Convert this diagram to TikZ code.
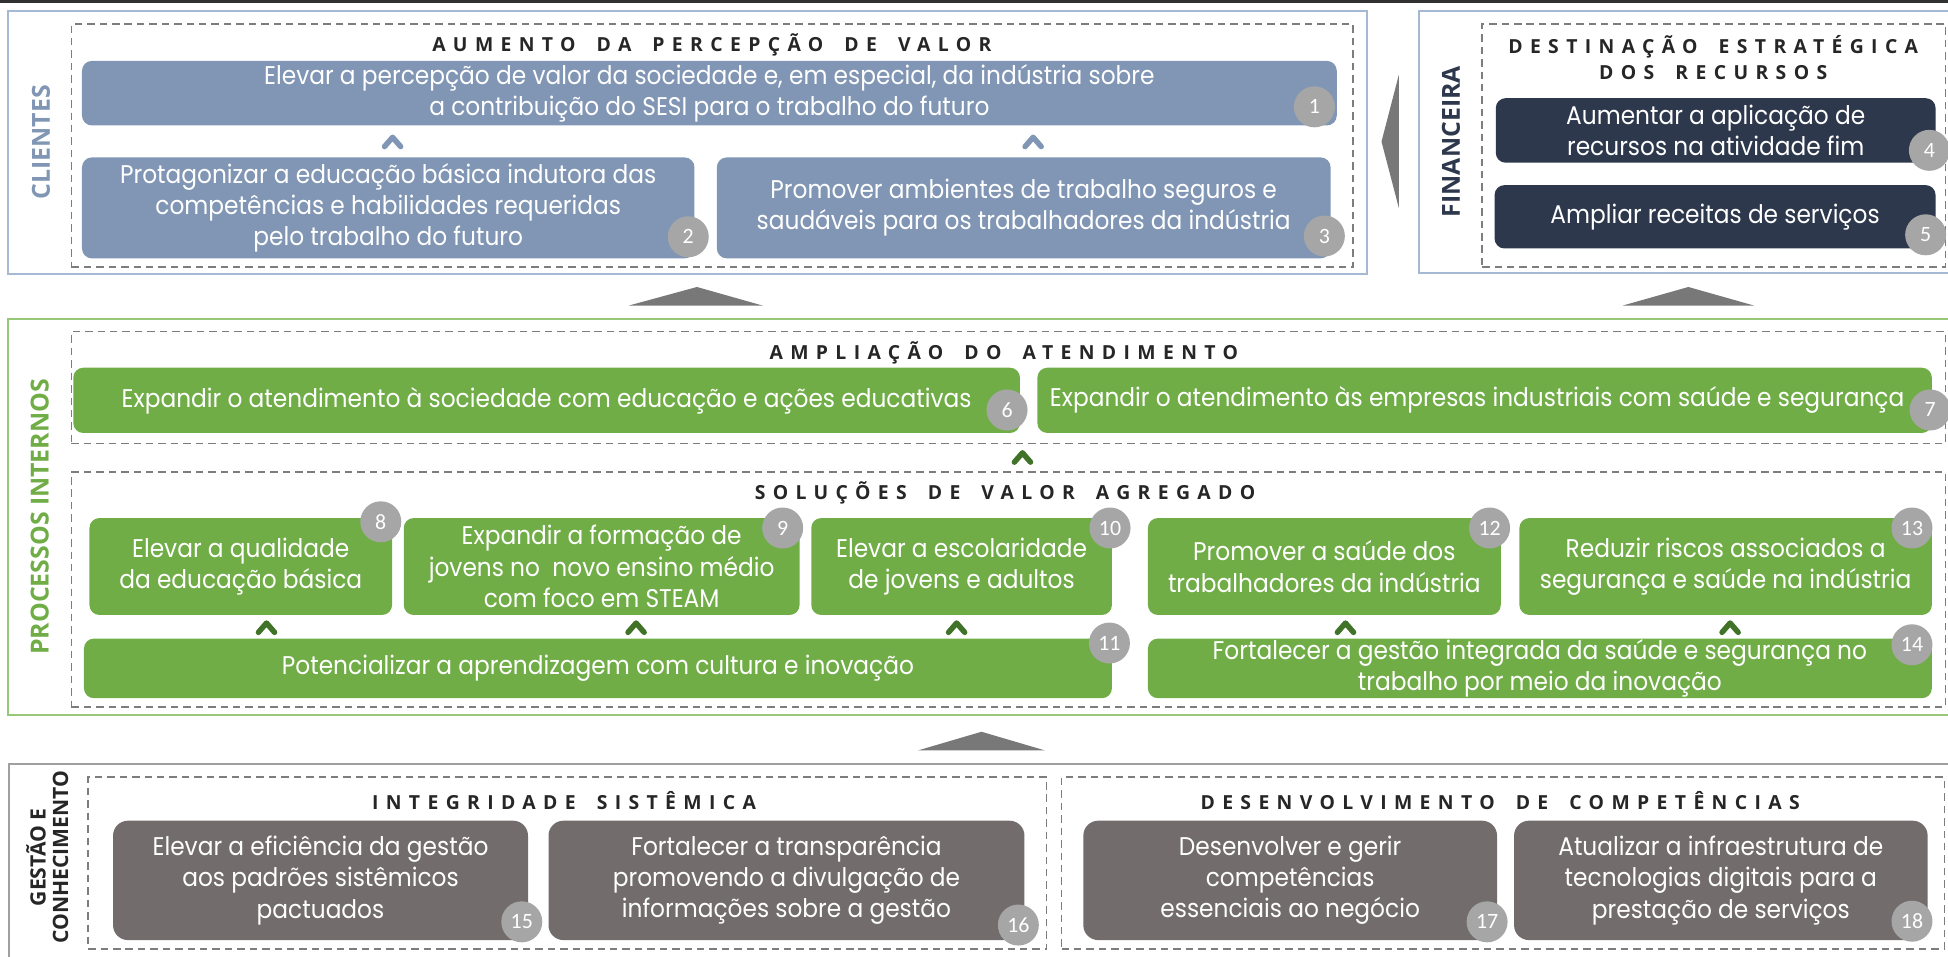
\documentclass[tikz,border=0pt]{standalone}
\usepackage{fontspec}
\setmainfont[FakeStretch=0.91]{Poppins}
\newfontfamily\ttlfont[LetterSpace=38, WordSpace=1.7]{Open Sans}
\newfontfamily\sidefont{Open Sans}
\newfontfamily\numfont{Carlito}
\definecolor{cliblue}{RGB}{128,150,180}
\definecolor{cliline}{RGB}{165,185,212}
\definecolor{navy}{RGB}{45,56,76}
\definecolor{grn}{RGB}{112,173,71}
\definecolor{grnline}{RGB}{150,200,120}
\definecolor{dkgrn}{RGB}{64,115,40}
\definecolor{gbx}{RGB}{114,108,108}
\definecolor{gline}{RGB}{160,160,160}
\definecolor{badgec}{RGB}{166,166,166}
\definecolor{dashc}{RGB}{125,125,125}
\definecolor{arrc}{RGB}{120,120,120}
\definecolor{ttlc}{RGB}{38,38,38}
\definecolor{topbar}{RGB}{50,50,50}
\tikzset{
  base/.style={inner sep=0pt, outer sep=0pt},
  btxt/.style={font=\fontsize{10.3}{12.6}\selectfont, text=white, align=center},
  cbox/.style={base, btxt, fill=cliblue, rounded corners=4pt},
  fbox/.style={base, btxt, fill=navy, rounded corners=4pt},
  pbox/.style={base, btxt, fill=grn, rounded corners=4pt},
  gbox/.style={base, btxt, fill=gbx, rounded corners=6pt},
  badge/.style={circle, fill=badgec, minimum size=16.5pt, inner sep=0pt, text=white, font=\numfont\fontsize{8.8}{8.8}\selectfont},
  dbox/.style={base, draw=dashc, line width=0.6pt, dash pattern=on 3pt off 2pt},
  frame/.style={base, line width=0.8pt},
  ttl/.style={font=\ttlfont\bfseries\fontsize{7.8}{10.5}\selectfont, text=ttlc, align=center},
  side/.style={rotate=90, font=\sidefont\bfseries\fontsize{10}{10}\selectfont, align=center},
  chevblue/.style={draw=cliblue, line width=2.2pt, line cap=round, line join=round},
  chevgreen/.style={draw=dkgrn, line width=2.2pt, line cap=round, line join=round},
}
\newcommand\mybox[7]{%
  \pgfmathsetmacro\bw{(#5-#3)/2}%
  \pgfmathsetmacro\bh{(#6-#4)/2}%
  \node[#2, minimum width=\bw pt, minimum height=\bh pt] (#1) at ({(#3+#5)/2},{(#4+#6)/2}) {#7};}
\newcommand\chev[3]{\draw[#3] (#1-6.5,#2+4) -- (#1,#2-3.5) -- (#1+6.5,#2+4);}
\begin{document}
\begin{tikzpicture}[x=0.5pt,y=-0.5pt]
\useasboundingbox (0,0) rectangle (1568,770);
\fill[topbar] (0,0) rectangle (1568,2.8);

% ---------- CLIENTES ----------
\mybox{cliO}{frame, draw=cliline}{6.5}{8.6}{1100}{220.5}{}
\mybox{cliD}{dbox}{57.5}{19.3}{1089}{215}{}
\node[side, text=cliblue] (cliL) at (33,114.5) {CLIENTES};
\node[ttl] (t1) at (573,36) {AUMENTO DA PERCEPÇÃO DE VALOR};
\mybox{o1}{cbox}{66}{49}{1076}{101}{Elevar a percepção de valor da sociedade e, em especial, da indústria sobre\\a contribuição do SESI para o trabalho do futuro}
\mybox{o2}{cbox}{66}{126.7}{559}{208}{Protagonizar a educação básica indutora das\\competências e habilidades requeridas\\pelo trabalho do futuro}
\mybox{o3}{cbox}{577}{126.7}{1071}{208}{Promover ambientes de trabalho seguros e\\saudáveis para os trabalhadores da indústria}
\node[badge] (n1) at (1058,86) {1};
\node[badge] (n2) at (554,190.6) {2};
\node[badge] (n3) at (1066,190) {3};
\chev{316}{114}{chevblue}
\chev{831.6}{114}{chevblue}

% left-pointing arrow
\fill[arrc] (1112,114) -- (1126,60) -- (1126,167.6) -- cycle;

% ---------- FINANCEIRA ----------
\mybox{finO}{frame, draw=cliline}{1142}{8.6}{1580}{220}{}
\mybox{finD}{dbox}{1193}{19.3}{1566}{215}{}
\node[side, text=navy] (finL) at (1168,114) {FINANCEIRA};
\node[ttl] (t2) at (1379,46.5) {DESTINAÇÃO ESTRATÉGICA\\DOS RECURSOS};
\mybox{o4}{fbox}{1204}{79}{1558}{131}{Aumentar a aplicação de\\recursos na atividade fim}
\mybox{o5}{fbox}{1203}{149}{1558}{200}{Ampliar receitas de serviços}
\node[badge] (n4) at (1553,121) {4};
\node[badge] (n5) at (1550,189) {5};

% up arrows
\fill[arrc] (506,246) -- (561,231) -- (614,246) -- cycle;
\fill[arrc] (1306,246) -- (1359,231) -- (1412,246) -- cycle;
\fill[arrc] (739,604) -- (790,589) -- (841,604) -- cycle;

% ---------- PROCESSOS INTERNOS ----------
\mybox{proO}{frame, draw=grnline}{6.5}{257}{1580}{575.6}{}
\node[side, text=grn] (proL) at (32,416) {PROCESSOS INTERNOS};
\mybox{proA}{dbox}{57.5}{267}{1566}{357}{}
\node[ttl] (t3) at (808,284) {AMPLIAÇÃO DO ATENDIMENTO};
\mybox{o6}{pbox}{59}{296}{821}{348.5}{Expandir o atendimento à sociedade com educação e ações educativas}
\mybox{o7}{pbox}{835}{296}{1555}{348.5}{Expandir o atendimento às empresas industriais com saúde e segurança\hspace*{6pt}}
\node[badge] (n6) at (810.6,330) {6};
\node[badge] (n7) at (1553.6,330) {7};
\chev{823}{368}{chevgreen}
\mybox{proB}{dbox}{57.5}{380}{1566}{569}{}
\node[ttl] (t4) at (809,397) {SOLUÇÕES DE VALOR AGREGADO};
\mybox{o8}{pbox}{72}{417}{315.6}{495}{Elevar a qualidade\\da educação básica}
\mybox{o9}{pbox}{325}{417}{643.6}{495}{Expandir a formação de\\jovens no\ \ novo ensino médio\\com foco em STEAM}
\mybox{o10}{pbox}{653}{417}{895}{495}{Elevar a escolaridade\\de jovens e adultos}
\mybox{o12}{pbox}{924}{417}{1208}{495}{Promover a saúde dos\\trabalhadores da indústria}
\mybox{o13}{pbox}{1223}{417}{1555}{495}{Reduzir riscos associados a\\segurança e saúde na indústria}
\mybox{o11}{pbox}{67.6}{514}{895}{562}{Potencializar a aprendizagem com cultura e inovação}
\mybox{o14}{pbox}{924}{514}{1555}{562}{Fortalecer a gestão integrada da saúde e segurança no\\trabalho por meio da inovação}
\node[badge] (n8) at (306.5,420) {8};
\node[badge] (n9) at (630,425) {9};
\node[badge] (n10) at (893.5,425) {10};
\node[badge] (n12) at (1199,425) {12};
\node[badge] (n13) at (1539,425) {13};
\node[badge] (n11) at (893,517.6) {11};
\node[badge] (n14) at (1539,519) {14};
\chev{214.5}{505}{chevgreen}
\chev{512}{505}{chevgreen}
\chev{770}{505}{chevgreen}
\chev{1083}{505}{chevgreen}
\chev{1392.6}{505}{chevgreen}

% ---------- GESTAO E CONHECIMENTO ----------
\mybox{gesO}{frame, draw=gline}{7.5}{615}{1580}{790}{}
\node[side, text=ttlc, font=\sidefont\bfseries\fontsize{8.5}{9}\selectfont] (gesL) at (38,690) {GESTÃO E\\CONHECIMENTO};
\mybox{gesC}{dbox}{71}{625.6}{842.5}{764}{}
\node[ttl] (t5) at (454,644) {INTEGRIDADE SISTÊMICA};
\mybox{o15}{gbox}{91}{660.6}{425}{756.7}{Elevar a eficiência da gestão\\aos padrões sistêmicos\\pactuados}
\mybox{o16}{gbox}{441.5}{660.6}{824.6}{756.7}{Fortalecer a transparência\\promovendo a divulgação de\\informações sobre a gestão}
\node[badge] (n15) at (420,742) {15};
\node[badge] (n16) at (819.7,744.6) {16};
\mybox{gesD}{dbox}{854.5}{625.6}{1565}{764}{}
\node[ttl] (t6) at (1207.5,644) {DESENVOLVIMENTO DE COMPETÊNCIAS};
\mybox{o17}{gbox}{872}{660.6}{1205}{756.7}{Desenvolver e gerir\\competências\\essenciais ao negócio}
\mybox{o18}{gbox}{1218.7}{660.6}{1551.6}{756.7}{Atualizar a infraestrutura de\\tecnologias digitais para a\\prestação de serviços}
\node[badge] (n17) at (1197,742) {17};
\node[badge] (n18) at (1539,741.5) {18};
\end{tikzpicture}
\end{document}
